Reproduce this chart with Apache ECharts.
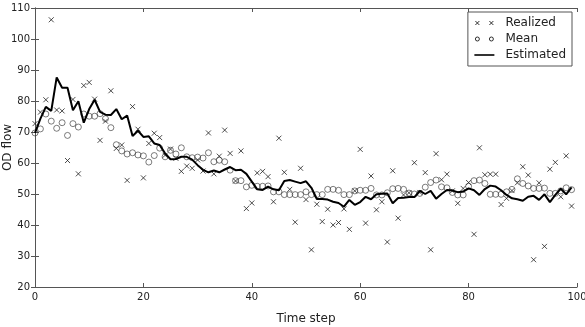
<!DOCTYPE html>
<html>
<head>
<meta charset="utf-8">
<script src="https://cdn.jsdelivr.net/npm/echarts@6/dist/echarts.min.js"></script>
<style>
  html, body { margin: 0; padding: 0; background: #fff; }
  #main { width: 585px; height: 327px; }
</style>
</head>
<body>
<div id="main"></div>
<script>
// time steps 0..99
var steps = [
  0, 1, 2, 3, 4, 5, 6, 7, 8, 9, 10, 11, 12, 13, 14, 15, 16, 17, 18, 19,
  20, 21, 22, 23, 24, 25, 26, 27, 28, 29, 30, 31, 32, 33, 34, 35, 36, 37, 38, 39,
  40, 41, 42, 43, 44, 45, 46, 47, 48, 49, 50, 51, 52, 53, 54, 55, 56, 57, 58, 59,
  60, 61, 62, 63, 64, 65, 66, 67, 68, 69, 70, 71, 72, 73, 74, 75, 76, 77, 78, 79,
  80, 81, 82, 83, 84, 85, 86, 87, 88, 89, 90, 91, 92, 93, 94, 95, 96, 97, 98, 99
]

var realized = [
  72.7, 76.4, 80.4, 106.2, 77.1, 76.8, 60.8, 80.5, 56.5, 85.0,
  86.0, 80.6, 67.3, 73.5, 83.3, 64.7, 65.8, 54.4, 78.2, 70.9,
  55.2, 66.3, 69.6, 68.2, 62.5, 64.5, 61.5, 57.3, 59.0, 58.3,
  61.0, 57.4, 69.7, 56.5, 62.2, 70.6, 63.1, 54.2, 63.9, 45.3,
  47.1, 56.8, 57.3, 55.6, 47.5, 68.0, 57.0, 51.5, 40.9, 58.3,
  48.2, 32.0, 46.7, 41.1, 45.1, 40.0, 40.8, 45.2, 38.6, 51.0,
  64.4, 40.6, 55.8, 44.9, 47.5, 34.5, 57.5, 42.2, 49.7, 50.4,
  60.1, 50.5, 56.9, 32.0, 63.0, 54.6, 56.4, 51.0, 47.0, 51.8,
  53.7, 37.0, 64.9, 56.2, 56.4, 56.4, 46.6, 48.6, 51.1, 53.6,
  58.8, 56.1, 28.8, 53.6, 33.1, 58.0, 60.2, 49.1, 62.3, 46.1
]

var mean = [
  69.7, 71.0, 75.8, 73.5, 71.2, 73.0, 68.9, 72.7, 71.6, 75.8,
  75.1, 75.1, 75.9, 74.3, 71.4, 65.9, 63.9, 62.9, 63.3, 62.6,
  62.3, 60.3, 62.4, 64.8, 62.0, 64.1, 62.9, 64.9, 62.0, 61.7,
  61.9, 61.6, 63.3, 60.4, 60.9, 60.4, 57.7, 54.3, 54.3, 52.3,
  52.8, 52.5, 52.5, 52.6, 50.7, 50.7, 49.8, 49.8, 49.8, 49.8,
  50.7, 49.8, 49.8, 49.8, 51.5, 51.5, 51.2, 49.8, 49.8, 51.0,
  51.2, 51.2, 51.8, 49.7, 49.7, 50.4, 51.7, 51.8, 51.5, 50.3,
  50.0, 50.2, 52.2, 53.7, 54.5, 52.3, 52.0, 50.5, 49.7, 49.7,
  52.5, 54.3, 54.5, 53.4, 49.9, 49.9, 49.9, 50.7, 51.5, 54.9,
  53.4, 52.6, 51.8, 51.8, 51.9, 50.2, 50.2, 51.0, 52.0, 51.4
]

var estimated = [
  69.7, 74.3, 78.1, 76.8, 87.6, 84.3, 84.3, 77.0, 79.9, 73.0,
  77.4, 80.4, 76.5, 75.6, 75.5, 77.4, 74.1, 75.3, 68.7, 70.4,
  68.4, 68.6, 66.3, 65.8, 63.1, 61.2, 61.3, 62.0, 62.0, 61.1,
  59.3, 57.8, 57.0, 57.6, 57.0, 57.9, 58.7, 57.7, 57.8, 56.5,
  54.0, 51.5, 51.3, 52.4, 51.5, 51.2, 54.2, 54.5, 54.0, 53.5,
  54.1, 52.0, 48.4, 48.4, 48.2, 47.5, 47.1, 45.9, 48.1, 46.5,
  47.4, 49.1, 48.3, 49.9, 50.1, 50.2, 47.0, 48.7, 48.8, 49.0,
  49.0, 51.0, 50.0, 51.0, 48.5, 50.0, 51.3, 51.1, 50.6, 50.8,
  51.8, 51.2, 49.7, 51.6, 52.7, 52.4, 51.2, 49.7, 48.6, 48.3,
  47.8, 49.1, 49.4, 48.1, 49.9, 47.4, 49.7, 51.7, 49.9, 52.1
]

var names = ['Realized', 'Mean', 'Estimated']

function pairs(vals) {
  return steps.map(function(t, i) {
    return [t, vals[i]]
  })
}

var font = 'DejaVu Sans'
var spine = '#555'

// x marker, and the two-marker legend icons like matplotlib
var crossPath = 'path://M0,0L10,10M10,0L0,10'
var crossIcon = 'path://M0,-1M26,7M1,1L5,5M5,1L1,5M15,1L19,5M19,1L15,5'
var circleIcon = 'path://M0,-1M26,7M5,3A2,2 0 1 1 1,3A2,2 0 1 1 5,3ZM19,3A2,2 0 1 1 15,3A2,2 0 1 1 19,3Z'
// flat bar used as the line's legend key
var lineIcon = 'path://M0,-3M26,5M0,0L20,0L20,2L0,2Z'

var chart = echarts.init(document.getElementById('main'))

var option = {
  animation: false,
  backgroundColor: '#fff',
  textStyle: { fontFamily: font },
  grid: {
    left: 35, right: 8, top: 8, bottom: 40,
    containLabel: false,
    outerBoundsMode: 'none'
  },
  legend: {
    orient: 'vertical',
    right: 13,
    top: 12,
    padding: [5, 6, 5, 6],
    itemGap: 4,
    itemWidth: 26,
    itemHeight: 8,
    borderColor: spine,
    borderWidth: 1,
    borderRadius: 0,
    textStyle: { fontSize: 12, color: '#222', fontFamily: font },
    data: [
      { name: names[0], icon: crossIcon, itemStyle: { color: 'transparent', borderColor: '#000', borderWidth: 1 } },
      { name: names[1], icon: circleIcon, itemStyle: { color: 'transparent', borderColor: '#000', borderWidth: 1 } },
      { name: names[2] }
    ]
  },
  xAxis: [
    {
      type: 'value',
      min: 0,
      max: 100,
      interval: 20,
      name: 'Time step',
      nameLocation: 'middle',
      nameGap: 26,
      nameMoveOverlap: false,
      nameTextStyle: { fontSize: 12, color: '#222', fontFamily: font },
      axisLine: { lineStyle: { color: spine, width: 1 } },
      axisTick: { inside: true, length: 4, lineStyle: { color: spine } },
      axisLabel: { fontSize: 10, color: '#222', margin: 5, fontFamily: font },
      splitLine: { show: false }
    },
    {
      type: 'value',
      position: 'top',
      min: 0,
      max: 100,
      interval: 20,
      axisLine: { show: true, lineStyle: { color: spine, width: 1 } },
      axisTick: { inside: true, length: 4, lineStyle: { color: spine } },
      axisLabel: { show: false },
      splitLine: { show: false }
    }
  ],
  yAxis: [
    {
      type: 'value',
      min: 20,
      max: 110,
      interval: 10,
      name: 'OD flow',
      nameLocation: 'middle',
      nameGap: 21,
      nameMoveOverlap: false,
      nameTextStyle: { fontSize: 12, color: '#222', fontFamily: font },
      axisLine: { show: true, lineStyle: { color: spine, width: 1 } },
      axisTick: { show: true, inside: true, length: 4, lineStyle: { color: spine } },
      axisLabel: { fontSize: 10, color: '#222', margin: 5, fontFamily: font },
      splitLine: { show: false }
    },
    {
      type: 'value',
      position: 'right',
      min: 20,
      max: 110,
      interval: 10,
      axisLine: { show: true, lineStyle: { color: spine, width: 1 } },
      axisTick: { show: true, inside: true, length: 4, lineStyle: { color: spine } },
      axisLabel: { show: false },
      splitLine: { show: false }
    }
  ],
  series: [
    {
      name: names[0],
      type: 'scatter',
      symbol: crossPath,
      symbolSize: 5,
      itemStyle: { color: 'transparent', borderColor: '#222', borderWidth: 1 },
      data: pairs(realized),
      z: 2
    },
    {
      name: names[1],
      type: 'scatter',
      symbol: 'circle',
      symbolSize: 6,
      itemStyle: { color: 'transparent', borderColor: '#333', borderWidth: 0.8 },
      data: pairs(mean),
      z: 3
    },
    {
      // scatter twin that only supplies the legend key for the line
      name: names[2],
      type: 'scatter',
      symbol: lineIcon,
      symbolSize: 0,
      itemStyle: { color: '#000' },
      data: []
    },
    {
      name: names[2],
      type: 'line',
      symbol: 'none',
      legendIcon: lineIcon,
      lineStyle: { color: '#000', width: 2 },
      itemStyle: { color: '#000' },
      data: pairs(estimated),
      z: 4
    }
  ]
}

chart.setOption(option)
</script>
</body>
</html>
